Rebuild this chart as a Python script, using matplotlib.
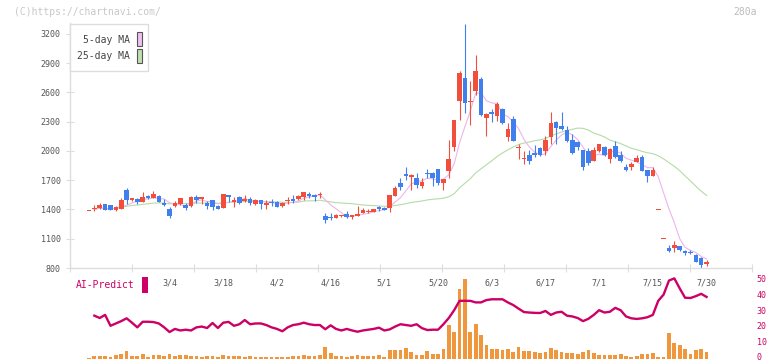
import numpy as np
import pandas as pd
import matplotlib
matplotlib.use('Agg')
import matplotlib.pyplot as plt
from matplotlib.patches import Rectangle

plt.rcParams['font.family'] = ['DejaVu Sans Mono', 'DejaVu Sans']

# Daily candles (one per trading day, index 0..115)
opens = [1392, 1405, 1414, 1452, 1443, 1395, 1408, 1600, 1501, 1508,
         1480, 1539, 1518, 1539, 1467, 1405, 1436, 1457, 1450, 1436,
         1528, 1508, 1467, 1498, 1436, 1415, 1549, 1480, 1532, 1487,
         1508, 1457, 1498, 1446, 1480, 1480, 1436, 1490, 1508, 1505,
         1525, 1556, 1549, 1546, 1334, 1327, 1316, 1330, 1350, 1327,
         1333, 1367, 1378, 1378, 1423, 1420, 1412, 1543, 1670, 1760,
         1737, 1723, 1646, 1775, 1775, 1815, 1675, 1798, 2045, 2517,
         2750, 2500, 2620, 2735, 2342, 2403, 2356, 2430, 2147, 2330,
         2028, 1920, 1960, 1980, 2035, 1995, 2147, 2302, 2260, 2215,
         2108, 2090, 2010, 2000, 1898, 1995, 2045, 1918, 2050, 1960,
         1840, 1833, 1892, 1942, 1805, 1747, 1402, 1105, 1002, 1002,
         1026, 975, 968, 933, 905, 838]
highs = [1392, 1444, 1467, 1455, 1445, 1440, 1518, 1620, 1520, 1515,
         1580, 1545, 1587, 1545, 1508, 1426, 1490, 1520, 1465, 1535,
         1549, 1528, 1490, 1500, 1445, 1560, 1549, 1528, 1535, 1549,
         1525, 1505, 1500, 1498, 1508, 1485, 1480, 1528, 1549, 1545,
         1582, 1580, 1555, 1580, 1360, 1360, 1350, 1345, 1385, 1345,
         1440, 1420, 1405, 1410, 1440, 1425, 1549, 1645, 1720, 1833,
         1760, 1770, 1720, 1820, 1780, 1820, 1713, 2110, 2320, 2822,
         3303, 2718, 2986, 2760, 2385, 2430, 2506, 2440, 2285, 2360,
         2070, 2000, 2010, 2060, 2040, 2150, 2398, 2310, 2400, 2260,
         2170, 2100, 2015, 2030, 2040, 2075, 2050, 2030, 2100, 1995,
         1865, 1890, 1960, 1960, 1810, 1840, 1402, 1105, 1040, 1080,
         1030, 980, 985, 940, 915, 880]
lows = [1392, 1385, 1408, 1390, 1392, 1385, 1405, 1460, 1490, 1460,
        1478, 1508, 1515, 1478, 1435, 1316, 1430, 1445, 1398, 1430,
        1470, 1455, 1405, 1395, 1405, 1412, 1480, 1428, 1455, 1480,
        1450, 1450, 1405, 1405, 1436, 1425, 1430, 1457, 1470, 1500,
        1500, 1515, 1487, 1515, 1265, 1293, 1310, 1320, 1310, 1305,
        1330, 1365, 1365, 1375, 1380, 1390, 1378, 1540, 1600, 1703,
        1600, 1620, 1620, 1728, 1637, 1650, 1600, 1720, 1995, 2315,
        2393, 2267, 2575, 2360, 2155, 2295, 2308, 2280, 2100, 2100,
        1920, 1870, 1870, 1940, 1950, 1960, 2075, 2075, 2220, 2090,
        1970, 2010, 1800, 1860, 1895, 1990, 1950, 1875, 1930, 1890,
        1790, 1810, 1890, 1790, 1685, 1745, 1402, 1105, 960, 965,
        975, 930, 940, 860, 800, 825]
closes = [1392, 1408, 1442, 1398, 1395, 1423, 1501, 1501, 1518, 1477,
          1528, 1518, 1559, 1480, 1450, 1337, 1463, 1518, 1420, 1528,
          1498, 1528, 1436, 1426, 1408, 1559, 1525, 1498, 1470, 1508,
          1470, 1498, 1453, 1463, 1470, 1430, 1470, 1500, 1490, 1539,
          1580, 1543, 1528, 1556, 1293, 1316, 1340, 1340, 1327, 1340,
          1354, 1395, 1385, 1405, 1408, 1392, 1549, 1624, 1635, 1750,
          1754, 1651, 1686, 1761, 1720, 1669, 1713, 1918, 2318, 2800,
          2497, 2510, 2822, 2370, 2380, 2383, 2483, 2290, 2226, 2103,
          2045, 1932, 1898, 1960, 1960, 2113, 2290, 2233, 2226, 2103,
          1977, 2045, 1840, 1880, 2010, 2070, 1960, 2020, 1942, 1898,
          1805, 1867, 1932, 1795, 1747, 1805, 1402, 1105, 975, 1036,
          985, 957, 950, 865, 830, 865]

# Volume (relative units)
volume = [1, 3, 3, 3, 2, 4, 5, 8, 3, 3,
          5, 2, 4, 4, 3, 5, 3, 4, 4, 3,
          3, 2, 3, 3, 2, 4, 3, 3, 3, 2,
          3, 2, 2, 2, 2, 2, 2, 2, 3, 3,
          4, 3, 3, 4, 12, 6, 3, 3, 2, 3,
          4, 3, 3, 3, 4, 2, 9, 9, 9, 11,
          7, 4, 4, 8, 5, 5, 10, 34, 27, 70,
          80, 27, 35, 24, 14, 10, 10, 9, 10, 7,
          12, 8, 8, 7, 6, 7, 11, 9, 7, 6,
          6, 5, 7, 9, 6, 4, 4, 4, 4, 5,
          3, 2, 3, 5, 5, 6, 2, 2, 26, 16,
          14, 10, 5, 9, 10, 7]

# AI-Predict score (index 1..115)
ai_predict = [26.5, 25, 27, 20, 21.5, 23, 24.8, 22, 19, 22.6,
              22.6, 22.4, 21.5, 19, 16, 18, 17, 17.5, 17, 19,
              19.5, 18.6, 21.8, 18.6, 22, 22.5, 20, 21, 23.7, 21,
              21.5, 21.5, 20.5, 19, 18, 16.5, 19, 20.5, 21, 22,
              21, 20.5, 20.5, 17.8, 20.3, 18, 17, 18, 17, 16.2,
              17, 17.5, 18, 18.8, 17, 17.7, 19.5, 21, 20.5, 20,
              21, 18.5, 17.3, 17.5, 17.5, 21, 25, 30, 36, 36,
              36, 35, 35, 36.5, 37, 37, 37, 35, 33.3, 31,
              28.8, 28.5, 28.3, 28.2, 29.5, 27, 28.5, 29, 26.5, 26,
              25, 23, 24.5, 27, 30, 28.5, 29, 31.5, 30, 26,
              24.8, 24.4, 24.8, 25.5, 27, 36, 40, 49, 50.4, 44,
              38, 37.8, 39, 40.5, 38.5]

date_labels = ['3/4', '3/18', '4/2', '4/16', '5/1', '5/20',
               '6/3', '6/17', '7/1', '7/15', '7/30']
date_idx = [15, 25, 35, 45, 55, 65, 75, 85, 95, 105, 115]

price_ticks = [800, 1100, 1400, 1700, 2000, 2300, 2600, 2900, 3200]
ai_ticks = [0, 10, 20, 30, 40, 50]

RED = '#f24e3c'
BLUE = '#4080ee'
GRID = '#dddddd'
AI_COL = '#cc0066'

W, H = 772, 361
fig = plt.figure(figsize=(W / 100, H / 100), dpi=100)

def fx(px):
    return px / W

def fy(py):
    return 1 - py / H

# ---- main price panel
ax = fig.add_axes([fx(70), fy(268), fx(752) - fx(70), fy(23) - fy(268)])
idx = np.arange(len(closes))
o = np.array(opens, float)
c = np.array(closes, float)
hi = np.array(highs, float)
lo = np.array(lows, float)

ma5 = pd.Series(c).rolling(5, min_periods=1).mean()
ma25 = pd.Series(c).rolling(25, min_periods=1).mean()
ax.plot(idx[1:], ma25[1:], color='#b4dca5', lw=0.8, zorder=1)
ax.plot(idx[1:], ma5[1:], color='#ecb6ec', lw=0.8, zorder=1)

col = np.where(c >= o, RED, BLUE)
ax.vlines(idx, lo, hi, colors=col, lw=0.8, zorder=2, clip_on=False)
body = np.abs(c - o)
bh = np.maximum(body, 13)
ax.bar(idx, bh, bottom=np.minimum(o, c) - (bh - body) / 2, width=0.86,
       color=col, lw=0, zorder=3)

x0 = (70 - 89) / 5.37
x1 = (752 - 89) / 5.37
ax.set_xlim(x0, x1)
ax.set_ylim(800, 800 + 245 * 10.256)
for s in ['top', 'right']:
    ax.spines[s].set_visible(False)
for s in ['left', 'bottom']:
    ax.spines[s].set_color(GRID)
    ax.spines[s].set_linewidth(1.0)
ax.set_yticks(price_ticks)
ax.set_yticklabels([str(t) for t in price_ticks])
ax.tick_params(axis='y', direction='inout', length=5.5, color=GRID,
               labelsize=6, labelcolor='#555555', pad=4)
ax.set_xticks(np.linspace(x0, x1, 12))
ax.set_xticklabels([])
ax.tick_params(axis='x', direction='inout', length=6, color=GRID)

trans = ax.get_xaxis_transform()
for d, i in zip(date_labels, date_idx):
    ax.text(i, -15 / 245, d, transform=trans, ha='center', va='center',
            fontsize=6, color='#555555', clip_on=False)

# legend box
fig.patches.append(Rectangle((fx(70), fy(71)), fx(148) - fx(70), fy(24) - fy(71),
                             transform=fig.transFigure, facecolor='white',
                             edgecolor=GRID, lw=1, zorder=5))
fig.text(fx(130), fy(40), '5-day MA', ha='right', va='center', fontsize=7,
         color='#444444', zorder=6)
fig.text(fx(130), fy(56), '25-day MA', ha='right', va='center', fontsize=7,
         color='#444444', zorder=6)
fig.patches.append(Rectangle((fx(137), fy(46)), fx(142) - fx(137), fy(32) - fy(46),
                             transform=fig.transFigure, facecolor='#f0c0f0',
                             edgecolor='#555555', lw=0.8, zorder=6))
fig.patches.append(Rectangle((fx(137), fy(63)), fx(142) - fx(137), fy(49) - fy(63),
                             transform=fig.transFigure, facecolor='#bfe0b0',
                             edgecolor='#555555', lw=0.8, zorder=6))

# ---- lower panel: volume + AI-Predict
ax2 = fig.add_axes([fx(70), fy(359), fx(752) - fx(70), fy(273) - fy(359)])
ax2.bar(idx, volume, width=0.7, color='#f0963c', lw=0)
ax2.set_xlim(x0, x1)
ax2.set_ylim(0, 86)
ax2.axis('off')

ax3 = ax2.twinx()
ax3.plot(idx[1:], ai_predict, color=AI_COL, lw=1.7, solid_joinstyle='round')
ax3.set_xlim(x0, x1)
ax3.set_ylim(-2 * 50 / 78, 50 + 6 * 50 / 78)
for s in ax3.spines.values():
    s.set_visible(False)
ax3.set_yticks(ai_ticks)
ax3.set_yticklabels([str(t) for t in ai_ticks])
ax3.tick_params(axis='y', length=0, pad=3.5, labelsize=6, labelcolor=AI_COL)
ax3.set_xticks([])

fig.text(fx(76), fy(285), 'AI-Predict', ha='left', va='center', fontsize=7,
         color=AI_COL)
fig.patches.append(Rectangle((fx(142), fy(293)), fx(148) - fx(142), fy(277) - fy(293),
                             transform=fig.transFigure, facecolor=AI_COL, lw=0))

fig.text(fx(14), fy(12), '(C)https://chartnavi.com/', ha='left', va='center',
         fontsize=7, color='#c8c8c8')
fig.text(fx(757), fy(12), '280a', ha='right', va='center', fontsize=7,
         color='#bbbbbb')

fig.savefig('out.png', dpi=100)
